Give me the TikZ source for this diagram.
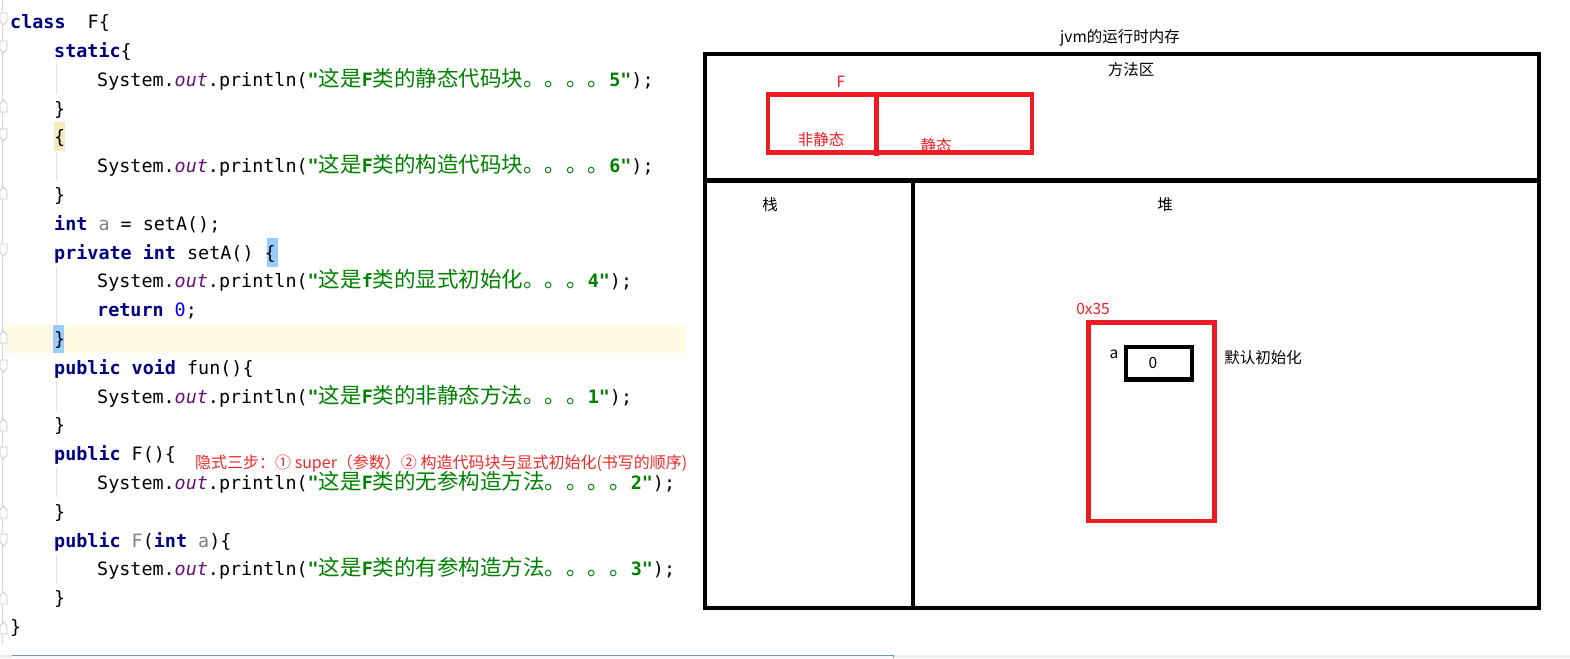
\documentclass[tikz,border=0pt]{standalone}
\usepackage{fontspec}
\setmainfont{Noto Sans CJK SC}
\newfontfamily\codefont{DejaVu Sans Mono}
\newfontfamily\zhfont{Noto Sans CJK SC}
\definecolor{kwblue}{RGB}{0,0,128}
\definecolor{strgreen}{RGB}{0,128,0}
\definecolor{outpurple}{RGB}{102,14,122}
\definecolor{numblue}{RGB}{0,0,255}
\definecolor{unused}{RGB}{128,128,128}
\definecolor{caretrow}{RGB}{255,250,227}
\definecolor{bracehl}{RGB}{153,204,255}
\definecolor{identhl}{RGB}{246,235,188}
\definecolor{paintred}{RGB}{237,28,36}
\definecolor{notered}{RGB}{240,40,40}
\definecolor{barblue}{RGB}{122,150,180}
\newcommand\zh[1]{{\zhfont\mdseries\fontsize{21.5}{22}\selectfont #1}}
\newcommand\kw[1]{\textcolor{kwblue}{\bfseries #1}}
\newcommand\jstr[1]{\textcolor{strgreen}{\bfseries "#1"}}
\newcommand\sysout{System.{\color{outpurple}\itshape out}.println}
\newcommand\codeline[3]{\node[codeline] (code#1) at (#2,{\lz+\lh*#1+\bl}) {#3};}

\begin{document}
\begin{tikzpicture}[x=1pt,y=-1pt,
	codeline/.style={anchor=base west,inner sep=0pt,font=\codefont\fontsize{18.4}{20}\selectfont},
	memtext/.style={inner sep=0pt,font=\fontsize{15.5}{16}\selectfont},
	redtext/.style={memtext,text=paintred},
	memwall/.style={line width=4.5pt},
	redwall/.style={line width=4.5pt,draw=paintred},
	foldmark/.style={draw=black!22,fill=white,line width=0.8pt},
	guide/.style={draw=black!12,line width=0.8pt}]
			%%%%% START %%%%%
			\def\lz{22}
			\def\lh{28.8}
			\def\bl{6.7}
			\def\xa{10}
			\def\xb{54}
			\def\xc{97}
			\useasboundingbox (0,0) rectangle (1570,658);

			% editor background marks
			\fill[caretrow] (5,325) rectangle (686,353);
			\fill[bracehl] (53,325) rectangle (64,353);
			\fill[bracehl] (267,238) rectangle (278,267);
			\fill[identhl] (54,122) rectangle (65,151);
			\draw[black!15] (2.5,0) -- (2.5,645);
			\foreach \fy in {19,47,135,250,366,453,540} {
				\draw[foldmark] (0,\fy-6) -- (7,\fy-6) -- (7,\fy+2) -- (3.5,\fy+6) -- (0,\fy+2) -- cycle;
			}
			\foreach \fy in {106,193,337,425,512,598,628} {
				\draw[foldmark] (0,\fy+6) -- (7,\fy+6) -- (7,\fy-2) -- (3.5,\fy-6) -- (0,\fy-2) -- cycle;
			}
			\foreach \ga/\gb in {65/94,152/180,267/324,382/411,468/497,555/584} {
				\draw[guide] (56,\ga) -- (56,\gb);
			}

			% code
			\codeline{0}{\xa}{\kw{class}~~F\{}
			\codeline{1}{\xb}{\kw{static}\{}
			\codeline{2}{\xc}{\sysout(\jstr{\zh{这是}F\zh{类的静态代码块。。。。}5});}
			\codeline{3}{\xb}{\}}
			\codeline{4}{\xb}{\{}
			\codeline{5}{\xc}{\sysout(\jstr{\zh{这是}F\zh{类的构造代码块。。。。}6});}
			\codeline{6}{\xb}{\}}
			\codeline{7}{\xb}{\kw{int} \textcolor{unused}{a} = setA();}
			\codeline{8}{\xb}{\kw{private} \kw{int} setA() \{}
			\codeline{9}{\xc}{\sysout(\jstr{\zh{这是}f\zh{类的显式初始化。。。}4});}
			\codeline{10}{\xc}{\kw{return} \textcolor{numblue}{0};}
			\codeline{11}{\xb}{\}}
			\codeline{12}{\xb}{\kw{public} \kw{void} fun()\{}
			\codeline{13}{\xc}{\sysout(\jstr{\zh{这是}F\zh{类的非静态方法。。。}1});}
			\codeline{14}{\xb}{\}}
			\codeline{15}{\xb}{\kw{public} F()\{}
			\codeline{16}{\xc}{\sysout(\jstr{\zh{这是}F\zh{类的无参构造方法。。。。}2});}
			\codeline{17}{\xb}{\}}
			\codeline{18}{\xb}{\kw{public} \textcolor{unused}{F}(\kw{int} \textcolor{unused}{a})\{}
			\codeline{19}{\xc}{\sysout(\jstr{\zh{这是}F\zh{类的有参构造方法。。。。}3});}
			\codeline{20}{\xb}{\}}
			\codeline{21}{\xa}{\}}
			\node[memtext,font=\fontsize{16}{17}\selectfont,text=notered,anchor=west] (note) at (195,463) {隐式三步：① super（参数）② 构造代码块与显式初始化(书写的顺序)};

			% status bar
			\fill[black!7] (0,655) rectangle (1570,658);
			\fill[blue!3] (12,655) rectangle (893,658);
			\draw[barblue,line width=1pt] (12,655.5) -- (893,655.5) -- (893,658);

			% jvm memory
			\node[memtext] (title) at (1120,38) {jvm的运行时内存};
			\draw[memwall] (705,54) rectangle (1539,608);
			\draw[memwall] (705,180.5) -- (1539,180.5);
			\draw[memwall] (913,180.5) -- (913,608);
			\node[memtext] (method) at (1131,70) {方法区};
			\node[memtext] (stack) at (770,205) {栈};
			\node[memtext] (heap) at (1165,205) {堆};

			\node[redtext] (cls) at (841,82) {F};
			\node[redtext] (nonstat) at (821,140) {非静态};
			\node[redtext] (stat) at (936,146) {静态};
			\draw[redwall] (768,94.5) rectangle (1032,152.5);
			\draw[redwall] (876.5,94.5) -- (876.5,156);

			\node[redtext] (addr) at (1093,308.5) {0x35};
			\draw[redwall] (1088.3,322.3) rectangle (1214.3,521);
			\draw[line width=4.3pt] (1126,347) rectangle (1192,379.5);
			\node[memtext] (fa) at (1114,354) {a};
			\node[memtext] (fval) at (1153,363) {0};
			\node[memtext] (dflt) at (1263,358) {默认初始化};
			%%%%% END %%%%%
\end{tikzpicture}
\end{document}
